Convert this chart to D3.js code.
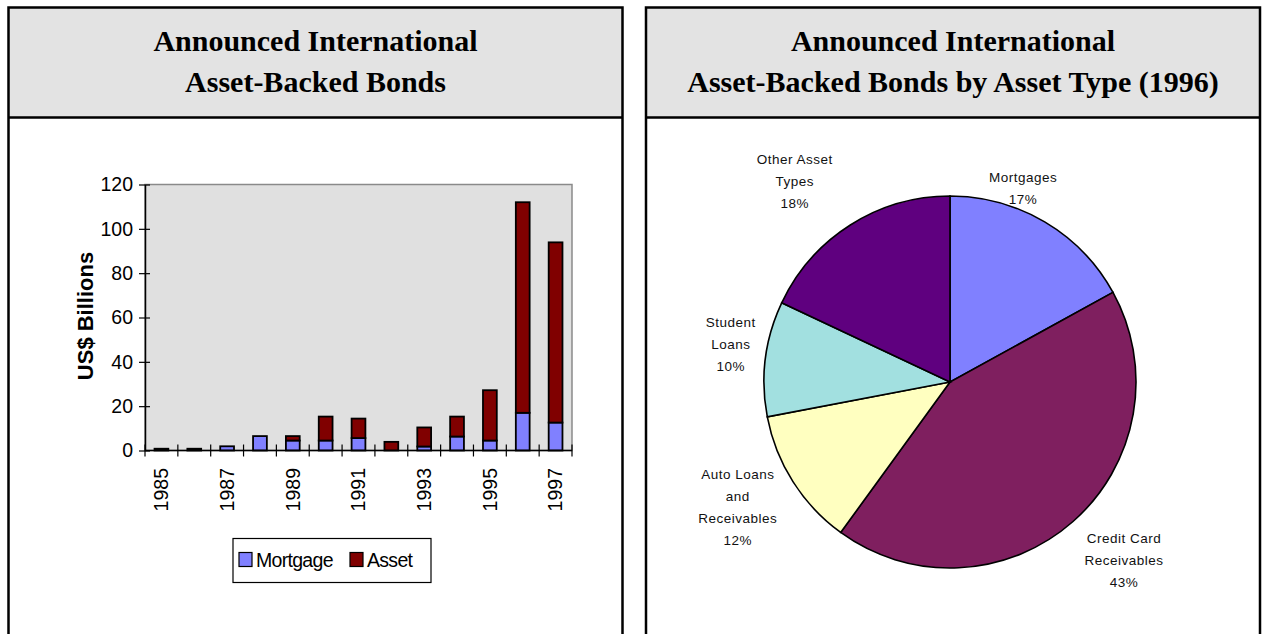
<!DOCTYPE html>
<html>
<head>
<meta charset="utf-8">
<script src="https://cdn.jsdelivr.net/npm/d3@7.9.0/dist/d3.min.js"></script>
<style>
  body { margin: 0; background: #fff; }
  .title { font-family: "Liberation Serif", "Times New Roman", serif; font-weight: bold; font-size: 30px; }
  .ax text { font-family: "Liberation Sans", Arial, sans-serif; font-size: 19.5px; fill: #000; }
  .pielab { font-family: "Liberation Sans", Arial, sans-serif; font-size: 13.5px; letter-spacing: 0.5px; fill: #111; }
</style>
</head>
<body>
<svg id="chart" width="1265" height="634"></svg>
<script>
// bar chart data (US$ billions)
const years = [1985, 1986, 1987, 1988, 1989, 1990, 1991, 1992, 1993, 1994, 1995, 1996, 1997];
const mortgage = [0, 0, 1.9, 6.5, 4.5, 4.5, 5.6, 0, 1.8, 6.3, 4.5, 17, 12.6];
const asset = [0.8, 0.8, 0, 0, 2, 10.8, 8.8, 3.9, 8.6, 9, 22.7, 95, 81.3];
const yTicks = [0, 20, 40, 60, 80, 100, 120];
const labelledYears = [1985, 1987, 1989, 1991, 1993, 1995, 1997];
const seriesNames = ['Mortgage', 'Asset'];
const seriesColors = ['#8080ff', '#800000'];

// pie data (1996, percent)
const pieCategories = ['Mortgages', 'Credit Card\nReceivables', 'Auto Loans\nand\nReceivables', 'Student\nLoans', 'Other Asset\nTypes'];
const pieShares = [17, 43, 12, 10, 18];
const pieColors = ['#8080ff', '#7f1f5f', '#ffffc0', '#a2e0e0', '#5f007f'];

const leftTitle = ['Announced International', 'Asset-Backed Bonds'];
const rightTitle = ['Announced International', 'Asset-Backed Bonds by Asset Type (1996)'];

const svg = d3.select('#chart');

// panels
function drawPanel(x0, x1, title) {
  const g = svg.append('g');
  g.append('rect').attr('x', x0).attr('y', 7.5).attr('width', x1 - x0).attr('height', 110)
    .attr('fill', '#e3e3e3');
  g.append('path')
    .attr('d', `M${x0},640V7.5H${x1}V640M${x0},117.5H${x1}`)
    .attr('fill', 'none').attr('stroke', '#000').attr('stroke-width', 2.5);
  g.selectAll('text').data(title).join('text')
    .attr('class', 'title')
    .attr('x', (x0 + x1) / 2)
    .attr('y', (d, i) => 51 + i * 41)
    .attr('text-anchor', 'middle')
    .text(d => d);
}
drawPanel(8.5, 622.5, leftTitle);
drawPanel(646, 1260, rightTitle);

// ---------- stacked bars ----------
const plot = { left: 145, right: 572, top: 184.5, bottom: 450.5 };
const x = d3.scaleBand().domain(years).range([plot.left, plot.right]).paddingInner(0.58).paddingOuter(0.29);
const y = d3.scaleLinear().domain([0, 120]).range([plot.bottom, plot.top]);

const rows = years.map((yr, i) => ({ year: yr, Mortgage: mortgage[i], Asset: asset[i] }));
const stacked = d3.stack().keys(seriesNames)(rows);

svg.append('rect')
  .attr('x', plot.left).attr('y', plot.top)
  .attr('width', plot.right - plot.left).attr('height', plot.bottom - plot.top)
  .attr('fill', '#e0e0e0').attr('stroke', '#8a8a8a').attr('stroke-width', 1.5);

svg.append('g').selectAll('g').data(stacked).join('g')
  .attr('fill', (d, i) => seriesColors[i])
  .selectAll('rect').data(d => d.filter(s => s[1] - s[0] > 0)).join('rect')
  .attr('x', d => x(d.data.year))
  .attr('width', x.bandwidth())
  .attr('y', d => y(d[1]))
  .attr('height', d => y(d[0]) - y(d[1]))
  .attr('stroke', '#000').attr('stroke-width', 1.8);

// y axis
const yAxis = svg.append('g').attr('class', 'ax')
  .attr('transform', `translate(${plot.left},0)`)
  .call(d3.axisLeft(y).tickValues(yTicks).tickSizeInner(6).tickSizeOuter(0).tickPadding(6));
yAxis.select('.domain').attr('stroke', '#000').attr('stroke-width', 1.5);
yAxis.selectAll('.tick line').attr('x2', 5).attr('x1', -6).attr('stroke-width', 1.2);

// x axis : ticks crossing at category boundaries
const step = x.step();
const boundaries = d3.range(years.length + 1).map(i => plot.left + i * step);
const xAxis = svg.append('g').attr('class', 'ax');
xAxis.append('line').attr('x1', plot.left).attr('x2', plot.right)
  .attr('y1', plot.bottom).attr('y2', plot.bottom).attr('stroke', '#000').attr('stroke-width', 1.5);
xAxis.selectAll('line.tk').data(boundaries).join('line').attr('class', 'tk')
  .attr('x1', d => d).attr('x2', d => d)
  .attr('y1', plot.bottom - 6).attr('y2', plot.bottom + 6)
  .attr('stroke', '#000').attr('stroke-width', 1.2);
xAxis.selectAll('text').data(labelledYears).join('text')
  .attr('transform', d => `translate(${x(d) + x.bandwidth() / 2},468) rotate(-90)`)
  .attr('text-anchor', 'end')
  .attr('dy', '0.35em')
  .text(d => d);

svg.append('text')
  .attr('transform', `translate(85,316) rotate(-90)`)
  .attr('text-anchor', 'middle')
  .attr('dy', '0.35em')
  .style('font-family', '"Liberation Sans", Arial, sans-serif')
  .style('font-weight', 'bold').style('font-size', '22px')
  .text('US$ Billions');

// legend
const lg = svg.append('g').attr('class', 'ax');
lg.append('rect').attr('x', 233).attr('y', 538.5).attr('width', 198).attr('height', 44)
  .attr('fill', '#fff').attr('stroke', '#000').attr('stroke-width', 1.2);
const legX = [239, 350];
seriesNames.forEach((name, i) => {
  lg.append('rect').attr('x', legX[i]).attr('y', 552.5).attr('width', 13).attr('height', 14)
    .attr('fill', seriesColors[i]).attr('stroke', '#000').attr('stroke-width', 1.2);
  lg.append('text').attr('x', legX[i] + 17).attr('y', 560).attr('dy', '0.35em')
    .style('letter-spacing', '-0.7px')
    .text(name);
});

// ---------- pie ----------
const cx = 950, cy = 382, r = 186;
const pie = d3.pie().sort(null).value(d => d)(pieShares);
const arc = d3.arc().innerRadius(0).outerRadius(r);
const pg = svg.append('g').attr('transform', `translate(${cx},${cy})`);
pg.selectAll('path').data(pie).join('path')
  .attr('d', arc)
  .attr('fill', (d, i) => pieColors[i])
  .attr('stroke', '#000').attr('stroke-width', 1.6);

// labels: outer centroid plus small nudges to mimic the original placement
const labelArc = d3.arc().innerRadius(r + 44).outerRadius(r + 44);
const nudge = [[-44, 4], [22, 6], [-18, 2], [9, -9], [-32, -7]];
const lineH = 22;
pie.forEach((d, i) => {
  const lines = pieCategories[i].split('\n').concat([pieShares[i] + '%']);
  const [px, py] = labelArc.centroid(d);
  const bx = px + nudge[i][0], by = py + nudge[i][1];
  const t = pg.append('text').attr('class', 'pielab').attr('text-anchor', 'middle');
  lines.forEach((ln, j) => {
    t.append('tspan').attr('x', bx)
      .attr('y', by + (j - (lines.length - 1) / 2) * lineH)
      .attr('dy', '0.35em')
      .text(ln);
  });
});
</script>
</body>
</html>
